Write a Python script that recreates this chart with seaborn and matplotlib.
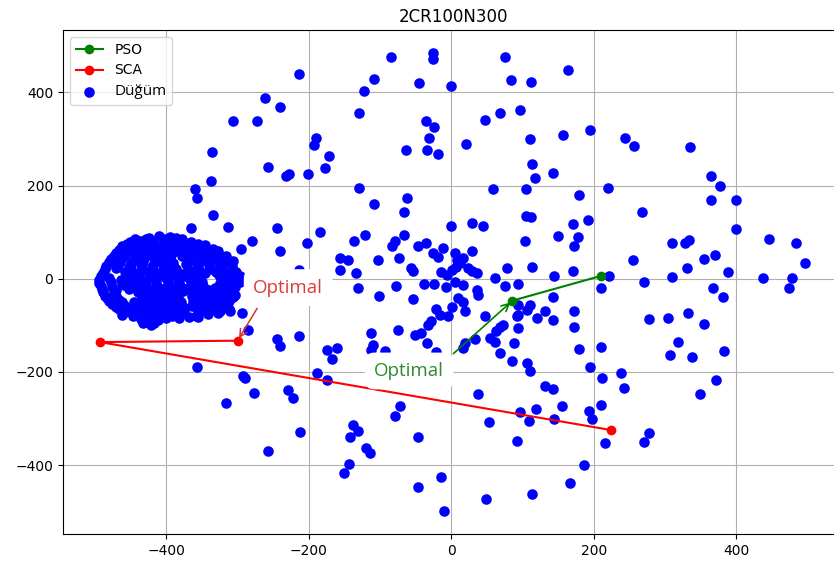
import matplotlib
matplotlib.use("Agg")
import matplotlib.pyplot as plt
import seaborn as sns

title = "2CR100N300"
legend_labels = ["PSO", "SCA", "Düğüm"]
note_text = "Optimal"

# Best-position paths of the two optimisers (last point = optimum)
pso_x = [210, 86]
pso_y = [6, -47]
sca_x = [225, -493, -300]
sca_y = [-325, -136, -133]

# Dense node group around (-400, 0)
cluster_nodes = [
    (-424, 88), (-410, 92), (-395, 90), (-378, 86),
    (-451, 78), (-437, 82), (-419, 79), (-402, 77), (-386, 81), (-366, 79),
    (-462, 70), (-446, 66), (-430, 71), (-414, 68), (-397, 66), (-381, 70), (-362, 67), (-346, 72),
    (-470, 55), (-455, 58), (-439, 54), (-423, 57), (-408, 53), (-391, 58), (-374, 55), (-358, 57),
    (-342, 53), (-328, 59),
    (-478, 42), (-462, 45), (-446, 40), (-431, 44), (-414, 41), (-398, 45), (-366, 42), (-350, 40),
    (-334, 44), (-319, 41), (-307, 38),
    (-484, 27), (-468, 30), (-452, 26), (-436, 29), (-420, 25), (-404, 30), (-389, 26), (-372, 31),
    (-356, 27), (-340, 29), (-324, 25), (-308, 28),
    (-489, 13), (-458, 15), (-442, 11), (-426, 14), (-410, 12), (-394, 16), (-378, 11), (-362, 14),
    (-346, 12), (-330, 15), (-314, 12), (-302, 14),
    (-495, -2), (-480, 1), (-464, -3), (-448, 0), (-432, -4), (-416, -1), (-400, 2), (-384, -2),
    (-368, 1), (-352, -3), (-320, -1), (-305, -3), (-293, -1),
    (-492, -15), (-476, -18), (-460, -14), (-444, -17), (-428, -13), (-412, -18), (-396, -15),
    (-380, -17), (-364, -13), (-348, -16), (-332, -19), (-316, -14), (-303, -17),
    (-489, -29), (-473, -31), (-440, -28), (-424, -32), (-408, -29), (-392, -31), (-376, -27),
    (-360, -30), (-344, -32), (-328, -28), (-312, -31),
    (-483, -42), (-466, -45), (-434, -41), (-418, -44), (-402, -42), (-386, -46), (-354, -43),
    (-338, -41), (-322, -45), (-306, -40),
    (-476, -54), (-460, -57), (-444, -53), (-428, -58), (-412, -55), (-396, -52), (-380, -56),
    (-364, -58), (-348, -54), (-332, -57), (-317, -52),
    (-467, -66), (-450, -69), (-434, -64), (-418, -68), (-402, -66), (-386, -70), (-354, -67),
    (-338, -65), (-325, -69), (-312, -66),
    (-462, -77), (-447, -80), (-427, -82), (-408, -78), (-392, -81), (-358, -79), (-342, -76), (-327, -74),
    (-427, -91), (-411, -88), (-382, -84), (-368, -82), (-356, -83),
    (-422, -100),
    # in-between rows
    (-444, 85), (-428, 86), (-402, 85), (-386, 87),
    (-455, 74), (-438, 75), (-422, 73), (-405, 74), (-389, 75), (-372, 73), (-355, 74),
    (-466, 62), (-450, 61), (-434, 63), (-417, 61), (-400, 62), (-383, 63), (-366, 61), (-350, 62),
    (-335, 64),
    (-474, 49), (-458, 50), (-442, 48), (-426, 51), (-410, 49), (-394, 50), (-378, 48), (-362, 50),
    (-346, 49), (-330, 50), (-316, 48),
    (-481, 35), (-465, 36), (-449, 34), (-433, 37), (-417, 34), (-401, 36), (-390, 33), (-358, 35),
    (-342, 36), (-326, 34), (-312, 35),
    (-486, 20), (-470, 22), (-450, 20), (-434, 21), (-418, 19), (-402, 22), (-386, 20), (-370, 21),
    (-354, 19), (-338, 21), (-322, 20), (-306, 19),
    (-492, 6), (-454, 6), (-438, 7), (-422, 5), (-406, 6), (-390, 7), (-374, 5), (-358, 6),
    (-326, 7), (-310, 5), (-297, 6),
    (-494, -9), (-478, -8), (-462, -10), (-446, -9), (-430, -7), (-414, -9), (-398, -8), (-382, -10),
    (-366, -9), (-350, -8), (-324, -9), (-308, -10), (-296, -8),
    (-490, -23), (-470, -24), (-452, -22), (-436, -23), (-420, -24), (-404, -22), (-388, -23),
    (-372, -21), (-356, -23), (-340, -24), (-322, -22), (-307, -23),
    (-486, -36), (-470, -37), (-432, -36), (-416, -37), (-400, -35), (-384, -38), (-364, -37),
    (-348, -36), (-332, -38), (-316, -36), (-304, -34),
    (-480, -48), (-462, -50), (-446, -49), (-430, -50), (-414, -48), (-398, -49), (-380, -50),
    (-362, -48), (-346, -50), (-330, -49), (-312, -48),
    (-470, -60), (-454, -62), (-438, -61), (-422, -60), (-406, -62), (-390, -61), (-374, -63),
    (-358, -61), (-342, -62), (-326, -60),
    (-458, -72), (-442, -73), (-426, -72), (-410, -73), (-394, -74), (-378, -72), (-346, -70),
    (-330, -68), (-310, -70),
    (-435, -86), (-418, -84), (-400, -84),
    (-432, -96), (-417, -95),
]

# Nodes spread over the rest of the field
field_nodes = [
    # upper left
    (-84, 476), (-26, 485), (-26, 472), (-214, 440), (-108, 429), (-45, 420), (-123, 403),
    (-262, 389), (-241, 368), (-129, 355), (-306, 339), (-272, 339), (-35, 339), (-24, 326),
    (-190, 303), (-192, 288), (-31, 303), (-34, 277), (-64, 276), (-336, 272), (-171, 263),
    (-18, 267), (-257, 239), (-177, 237), (-232, 220), (-228, 224), (-201, 224), (-337, 210),
    (-360, 193), (-357, 174), (-129, 194), (-108, 160), (-62, 174), (-66, 143), (-334, 136),
    (-366, 109), (-314, 112), (-244, 109), (-184, 100), (-121, 93), (-66, 93), (-279, 80),
    (-203, 77), (-136, 81), (-83, 70), (-79, 80), (-46, 70), (-35, 77), (-26, 55), (-295, 64),
    (-241, 60), (-156, 45), (-145, 41), (-103, 41), (-73, 45), (-57, 23), (-53, 16), (-156, 19),
    (-134, 12), (-214, 19), (-11, 67), (-19, 47), (-14, 14), (-6, 9),
    # upper right
    (75, 476), (164, 449), (-1, 413), (84, 426), (112, 422), (47, 340), (68, 356), (97, 363),
    (21, 289), (110, 300), (157, 309), (195, 320), (244, 303), (257, 286), (335, 282), (114, 246),
    (117, 216), (143, 226), (59, 193), (105, 193), (179, 180), (220, 194), (364, 220), (377, 200),
    (364, 170), (400, 170), (268, 143), (0, 113), (29, 120), (44, 113), (105, 134), (112, 133),
    (171, 117), (192, 127), (400, 107), (150, 92), (178, 90), (172, 70), (104, 80), (310, 77),
    (328, 77), (334, 84), (446, 86), (484, 77), (497, 33), (29, 60), (6, 55), (8, 41), (13, 34),
    (17, 45), (24, 23), (29, 16), (36, 12), (78, 23), (114, 26), (255, 41), (355, 43), (370, 52),
    (331, 23), (388, 14), (144, 5), (171, 16), (221, 6), (438, 2), (478, 2), (474, -20), (1, 19),
    (7, 26),
    # centre
    (-38, -11), (-24, -12), (-8, -18), (6, -8), (17, -13), (36, -24), (38, -34), (10, -42),
    (17, -50), (1, -60), (20, -70), (-22, -65), (-16, -77), (-5, -81), (-29, -90), (-33, -100),
    # lower right
    (270, -8), (310, 4), (210, -20), (368, -20), (382, -40), (62, 1), (76, -16), (94, -11),
    (143, -40), (94, -56), (111, -56), (132, -70), (120, -85), (143, -88), (172, -70),
    (172, -104), (47, -80), (92, -81), (94, -106), (69, -103), (73, -99), (63, -113), (55, -128),
    (62, -135), (88, -137), (34, -130), (20, -138), (17, -149), (69, -160), (86, -176),
    (107, -180), (110, -199), (179, -151), (210, -147), (195, -189), (212, -214), (238, -203),
    (242, -234), (277, -87), (305, -85), (333, -74), (355, -97), (318, -136), (307, -163),
    (338, -167), (383, -156), (372, -217), (349, -247), (132, -230), (143, -237), (38, -247),
    (156, -273), (210, -270), (97, -287), (119, -280), (109, -305), (144, -301), (193, -285),
    (197, -302), (216, -353), (270, -351), (277, -332), (53, -307), (92, -348), (186, -400),
    (167, -439), (114, -463), (49, -473), (-14, -426), (-10, -499), (94, -77), (106, -67),
    # lower left
    (-285, -110), (-294, -74), (-244, -130), (-241, -144), (-214, -124), (-174, -153),
    (-160, -148), (-168, -173), (-357, -190), (-292, -209), (-290, -214), (-277, -245),
    (-316, -267), (-229, -239), (-222, -257), (-188, -203), (-174, -217), (-212, -330),
    (-257, -370), (-138, -314), (-131, -326), (-142, -339), (-119, -363), (-114, -375),
    (-143, -398), (-151, -416), (-112, -117), (-110, -142), (-113, -153), (-93, -156),
    (-75, -110), (-51, -120), (-43, -117), (-34, -137), (-22, -158), (-72, -273), (-79, -294),
    (-47, -339), (-47, -447), (-131, -20), (-101, -37), (-77, -16), (-53, -44),
]

nodes = cluster_nodes + field_nodes
node_x = [p[0] for p in nodes]
node_y = [p[1] for p in nodes]

fig = plt.figure(figsize=(8.34, 5.67), dpi=100)
ax = fig.add_axes([63 / 834, 1 - 534 / 567, 780 / 834, 504 / 567])

line_style = dict(sort=False, estimator=None, marker="o", markersize=7,
                  markeredgewidth=0, linewidth=1.5, ax=ax)
sns.lineplot(x=pso_x, y=pso_y, color="green", markeredgecolor="green",
             label=legend_labels[0], **line_style)
sns.lineplot(x=sca_x, y=sca_y, color="red", markeredgecolor="red",
             label=legend_labels[1], **line_style)
sns.scatterplot(x=node_x, y=node_y, color="blue", s=58, linewidth=0,
                label=legend_labels[2], ax=ax, zorder=1)

ax.set_xlim(-545, 550)
ax.set_ylim(-548, 534)
ax.grid(True, color="#b0b0b0", linewidth=0.8)
ax.set_axisbelow(True)
ax.set_title(title, fontsize=12)

box = dict(boxstyle="round,pad=0.5", fc="white", ec="none")
ax.annotate(note_text, xy=(sca_x[-1], sca_y[-1]), xytext=(-229, -19),
            ha="center", va="center", color="#e03a3a", fontsize=13.5,
            family="Open Sans", bbox=box,
            arrowprops=dict(arrowstyle="->", color="#d03535", lw=1.1,
                            relpos=(0.16, 0.0)))
ax.annotate(note_text, xy=(pso_x[-1], pso_y[-1]), xytext=(-59, -198),
            ha="center", va="center", color="#2e8b2e", fontsize=13.5,
            family="Open Sans", bbox=box,
            arrowprops=dict(arrowstyle="->", color="green", lw=1.2,
                            relpos=(1.0, 1.0)))

leg = ax.legend(loc="upper left", fontsize=10)
leg.get_texts()[2].set_family("Open Sans")
leg.get_texts()[2].set_fontsize(11)

fig.savefig("out.png", dpi=100)
